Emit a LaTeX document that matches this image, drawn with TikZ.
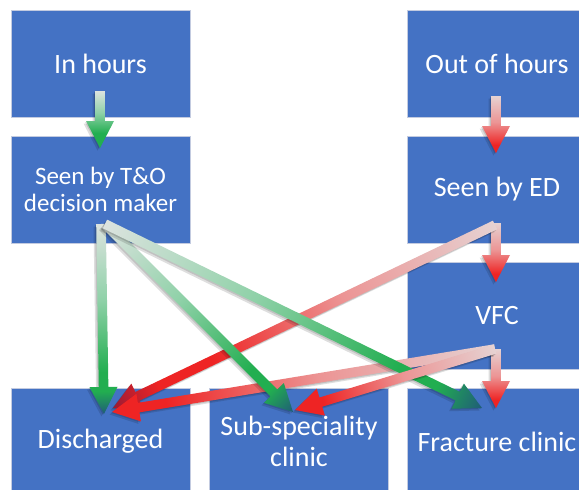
\documentclass[tikz,border=0pt]{standalone}
\usepackage{fontspec}
\setmainfont{Carlito}
\usetikzlibrary{calc}
\definecolor{boxblue}{HTML}{4472C4}
\definecolor{boxedge}{HTML}{C3CBE0}
\definecolor{gtail}{HTML}{DCE3DF}
\definecolor{gmid}{HTML}{8FD1A8}
\definecolor{gend}{HTML}{22AE50}
\definecolor{gdark}{HTML}{1F5C78}
\definecolor{rtail}{HTML}{E6D2D2}
\definecolor{rmid}{HTML}{EC9494}
\definecolor{rend}{HTML}{EE2424}
\definecolor{rdark}{HTML}{9A1B35}
\pgfdeclarehorizontalshading{greenA}{100bp}{color(0bp)=(gtail); color(25bp)=(gtail); color(44bp)=(gmid); color(62bp)=(gend); color(75bp)=(gend); color(100bp)=(gend)}
\pgfdeclarehorizontalshading{greenB}{100bp}{color(0bp)=(gtail); color(25bp)=(gtail); color(45bp)=(gmid); color(64bp)=(gend); color(69bp)=(gend); color(75bp)=(gdark); color(100bp)=(gdark)}
\pgfdeclarehorizontalshading{redA}{100bp}{color(0bp)=(rtail); color(25bp)=(rtail); color(48bp)=(rmid); color(68bp)=(rend); color(75bp)=(rend); color(100bp)=(rend)}
\pgfdeclarehorizontalshading{redB}{100bp}{color(0bp)=(rtail); color(25bp)=(rtail); color(45bp)=(rmid); color(62bp)=(rend); color(69bp)=(rend); color(75bp)=(rdark); color(100bp)=(rdark)}
\newdimen\badx
\newdimen\bady
\newcommand\blockarrow[3]{%
  \pgfextractx{\badx}{\pgfpointdiff{\pgfpointanchor{#1}{center}}{\pgfpointanchor{#2}{center}}}%
  \pgfextracty{\bady}{\pgfpointdiff{\pgfpointanchor{#1}{center}}{\pgfpointanchor{#2}{center}}}%
  \pgfmathsetmacro\baang{atan2(\the\bady,\the\badx)}%
  \pgfmathsetmacro\balen{veclen(\the\badx,\the\bady)}%
  \begin{scope}[transform canvas={shift={(#1)},shift={(-2.5pt,-2.5pt)},rotate=\baang}]
    \fill[black,opacity=0.13] (0pt,-5pt) -- ({\balen pt-27pt},-5pt) -- ({\balen pt-27pt},-14pt) -- ({\balen pt},0pt) -- ({\balen pt-27pt},14pt) -- ({\balen pt-27pt},5pt) -- (0pt,5pt) -- cycle;
  \end{scope}
  \begin{scope}[transform canvas={shift={(#1)},shift={(-1pt,-1pt)},rotate=\baang}]
    \fill[black,opacity=0.13] (0pt,-5pt) -- ({\balen pt-27pt},-5pt) -- ({\balen pt-27pt},-14pt) -- ({\balen pt},0pt) -- ({\balen pt-27pt},14pt) -- ({\balen pt-27pt},5pt) -- (0pt,5pt) -- cycle;
  \end{scope}
  \begin{scope}[transform canvas={shift={(#1)},rotate=\baang}]
    \shade[shading=#3] (0pt,-4.8pt) -- ({\balen pt-27pt},-4.8pt) -- ({\balen pt-27pt},-14pt) -- ({\balen pt},0pt) -- ({\balen pt-27pt},14pt) -- ({\balen pt-27pt},4.8pt) -- (0pt,4.8pt) -- cycle;
  \end{scope}}
\begin{document}
\begin{tikzpicture}[x=1pt,y=-1pt,
  box/.style={fill=boxblue, draw=boxedge, line width=0.8pt, minimum width=179pt,
    minimum height=107pt, inner sep=0pt, align=center, text=white,
    font=\fontsize{28}{31.5}\selectfont}]
\useasboundingbox[fill=white] (0,0) rectangle (579,490);
\clip (0,0) rectangle (579,490);
\node[box] (ih) at (100.5,63.5) {In hours};
\node[box, font=\fontsize{25}{27.5}\selectfont] (to) at (100.5,189.5) {Seen by T\&O\\decision maker};
\node[box] (oh) at (497,63.5) {Out of hours};
\node[box] (ed) at (497,189.5) {Seen by ED};
\node[box] (vfc) at (497,315.5) {VFC};
\node[box] (dis) at (100.5,441.5) {Discharged};
\node[box] (sub) at (299,441.5) {Sub-speciality\\clinic};
\node[box] (fc) at (497,441.5) {Fracture clinic};
% arrow end points
\coordinate (ih-o) at (100,91);
\coordinate (to-i) at (100,148);
\coordinate (oh-o) at (496,96);
\coordinate (ed-i) at (496,153);
\coordinate (ed-o) at (496,223);
\coordinate (ed-d) at (495,225);
\coordinate (vfc-i) at (496,282);
\coordinate (vfc-o) at (496,349);
\coordinate (vfc-d) at (495,349);
\coordinate (fc-i) at (496,408);
\coordinate (fc-g) at (482,408);
\coordinate (dis-r1) at (113,408);
\coordinate (dis-r2) at (112,412);
\coordinate (dis-g) at (104,414);
\coordinate (sub-r) at (295,410);
\coordinate (sub-g) at (293,412);
\coordinate (to-o1) at (101,224);
\coordinate (to-o2) at (105,224);
% arrows
\blockarrow{ih-o}{to-i}{greenA}
\blockarrow{oh-o}{ed-i}{redA}
\blockarrow{ed-o}{vfc-i}{redA}
\blockarrow{vfc-o}{fc-i}{redA}
\blockarrow{to-o1}{dis-g}{greenB}
\blockarrow{ed-d}{dis-r1}{redB}
\blockarrow{vfc-d}{dis-r2}{redA}
\blockarrow{to-o2}{sub-g}{greenB}
\blockarrow{to-o2}{fc-g}{greenB}
\blockarrow{vfc-d}{sub-r}{redA}
\end{tikzpicture}
\end{document}
